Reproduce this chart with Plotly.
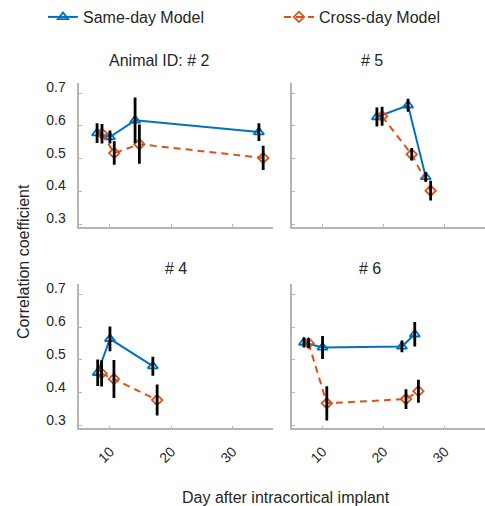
import plotly.graph_objects as go

# ---------------- data ----------------
panel_titles = ["Animal ID: # 2", "# 5", "# 4", "# 6"]
series_names = ["Same-day Model", "Cross-day Model"]
x_tick_vals = [10, 20, 30]
x_tick_text = ["10", "20", "30"]
y_tick_vals = [0.3, 0.4, 0.5, 0.6, 0.7]
y_tick_text = ["0.3", "0.4", "0.5", "0.6", "0.7"]

day_same_2 = [7.9, 10.0, 14.1, 34.3]
r_same_2 = [0.578, 0.566, 0.617, 0.581]
e_same_2 = [0.030, 0.020, 0.070, 0.027]
day_cross_2 = [8.7, 10.7, 14.8, 35.0]
r_cross_2 = [0.576, 0.517, 0.544, 0.502]
e_cross_2 = [0.030, 0.036, 0.060, 0.037]

day_same_5 = [18.9, 24.0, 26.9]
r_same_5 = [0.627, 0.663, 0.444]
e_same_5 = [0.029, 0.020, 0.015]
day_cross_5 = [19.75, 24.6, 27.7]
r_cross_5 = [0.629, 0.513, 0.402]
e_cross_5 = [0.029, 0.019, 0.030]

day_same_4 = [8.0, 10.0, 17.0]
r_same_4 = [0.461, 0.564, 0.481]
e_same_4 = [0.040, 0.038, 0.029]
day_cross_4 = [8.64, 10.65, 17.7]
r_cross_4 = [0.459, 0.442, 0.378]
e_cross_4 = [0.040, 0.058, 0.047]

day_same_6 = [6.96, 10.0, 23.0, 25.1]
r_same_6 = [0.553, 0.538, 0.541, 0.578]
e_same_6 = [0.015, 0.035, 0.018, 0.037]
day_cross_6 = [7.72, 10.7, 23.66, 25.7]
r_cross_6 = [0.551, 0.368, 0.381, 0.405]
e_cross_6 = [0.015, 0.052, 0.030, 0.035]

# ---------------- styling ----------------
W, H = 485, 506
BLUE = "#0072BD"
ORANGE = "#D95319"
TEXT = "#262626"
AXC = "#b5b5b5"
FONT = "Liberation Sans, Arial, sans-serif"

def px_x(p):
    return p / W

def px_y(p):
    return 1 - p / H

col_dom = [[px_x(79.3), px_x(273.0)], [px_x(292.0), 1.0]]
row_dom = [[px_y(226.7), px_y(83.3)], [px_y(428.3), px_y(284.3)]]
x_range = [5.0, 36.6]
y_range = [0.292, 0.730]

panels = [
    (day_same_2, r_same_2, e_same_2, day_cross_2, r_cross_2, e_cross_2),
    (day_same_5, r_same_5, e_same_5, day_cross_5, r_cross_5, e_cross_5),
    (day_same_4, r_same_4, e_same_4, day_cross_4, r_cross_4, e_cross_4),
    (day_same_6, r_same_6, e_same_6, day_cross_6, r_cross_6, e_cross_6),
]

fig = go.Figure()

for i, (ds, rs, es, dc, rc, ec) in enumerate(panels):
    xa = "x" if i == 0 else f"x{i+1}"
    ya = "y" if i == 0 else f"y{i+1}"
    fig.add_trace(go.Scatter(
        x=ds, y=rs, mode="lines+markers", name=series_names[0],
        legend="legend", showlegend=(i == 0),
        line=dict(color=BLUE, width=2),
        marker=dict(symbol="triangle-up-open", size=9, color=BLUE,
                    line=dict(width=1.8, color=BLUE)),
        xaxis=xa, yaxis=ya, hoverinfo="skip"))
    fig.add_trace(go.Scatter(
        x=dc, y=rc, mode="lines+markers", name=series_names[1],
        legend="legend2", showlegend=(i == 0),
        line=dict(color=ORANGE, width=2, dash="7px,5px"),
        marker=dict(symbol="diamond-open", size=8, color=ORANGE,
                    line=dict(width=1.8, color=ORANGE)),
        xaxis=xa, yaxis=ya, hoverinfo="skip"))
    for xs, ys, er in ((ds, rs, es), (dc, rc, ec)):
        fig.add_trace(go.Scatter(
            x=xs, y=ys, mode="markers", showlegend=False,
            marker=dict(size=1, color="rgba(0,0,0,0)"),
            error_y=dict(type="data", array=er, visible=True,
                         color="black", thickness=2.8, width=0),
            xaxis=xa, yaxis=ya, hoverinfo="skip"))

leg_common = dict(orientation="h", xanchor="left", yanchor="middle",
                  font=dict(size=16, color=TEXT), bgcolor="rgba(0,0,0,0)")
layout = dict(
    width=W, height=H,
    margin=dict(l=0, r=0, t=0, b=0, autoexpand=False),
    paper_bgcolor="white", plot_bgcolor="white",
    font=dict(family=FONT, color=TEXT, size=14),
    legend=dict(x=px_x(43), y=px_y(17), **leg_common),
    legend2=dict(x=px_x(279), y=px_y(17), **leg_common),
)

for i in range(4):
    r, c = divmod(i, 2)
    xk = "xaxis" if i == 0 else f"xaxis{i+1}"
    yk = "yaxis" if i == 0 else f"yaxis{i+1}"
    ya = "y" if i == 0 else f"y{i+1}"
    xa = "x" if i == 0 else f"x{i+1}"
    layout[xk] = dict(
        domain=col_dom[c], anchor=ya, range=x_range,
        showgrid=False, zeroline=False, showline=True,
        linecolor=AXC, linewidth=1.5, mirror=False,
        ticks="inside", ticklen=3, tickcolor=AXC, tickwidth=1,
        tickvals=x_tick_vals, ticktext=x_tick_text,
        showticklabels=(r == 1), tickangle=-45,
        tickfont=dict(size=14, color=TEXT), ticklabelstandoff=8)
    layout[yk] = dict(
        domain=row_dom[r], anchor=xa, range=y_range,
        showgrid=False, zeroline=False, showline=True,
        linecolor=AXC, linewidth=1.5, mirror=False,
        ticks="inside", ticklen=3, tickcolor=AXC, tickwidth=1,
        tickvals=y_tick_vals, ticktext=y_tick_text,
        showticklabels=(c == 0), ticklabelshift=-6,
        tickfont=dict(size=14, color=TEXT), ticklabelstandoff=9)

fig.update_layout(**layout)

title_pos = [(159, 61), (372, 61), (176, 268), (370, 268)]
for t, (tx, ty) in zip(panel_titles, title_pos):
    fig.add_annotation(text=t, x=px_x(tx), y=px_y(ty), xref="paper", yref="paper",
                       showarrow=False, xanchor="center", yanchor="middle",
                       font=dict(size=16, color=TEXT))

fig.add_annotation(text="Correlation coefficient", x=px_x(23), y=px_y(262),
                   xref="paper", yref="paper", showarrow=False, textangle=-90,
                   xanchor="center", yanchor="middle", font=dict(size=16, color=TEXT))
fig.add_annotation(text="Day after intracortical implant", x=px_x(286), y=px_y(497),
                   xref="paper", yref="paper", showarrow=False,
                   xanchor="center", yanchor="middle", font=dict(size=16, color=TEXT))

fig.write_html("out.html")
